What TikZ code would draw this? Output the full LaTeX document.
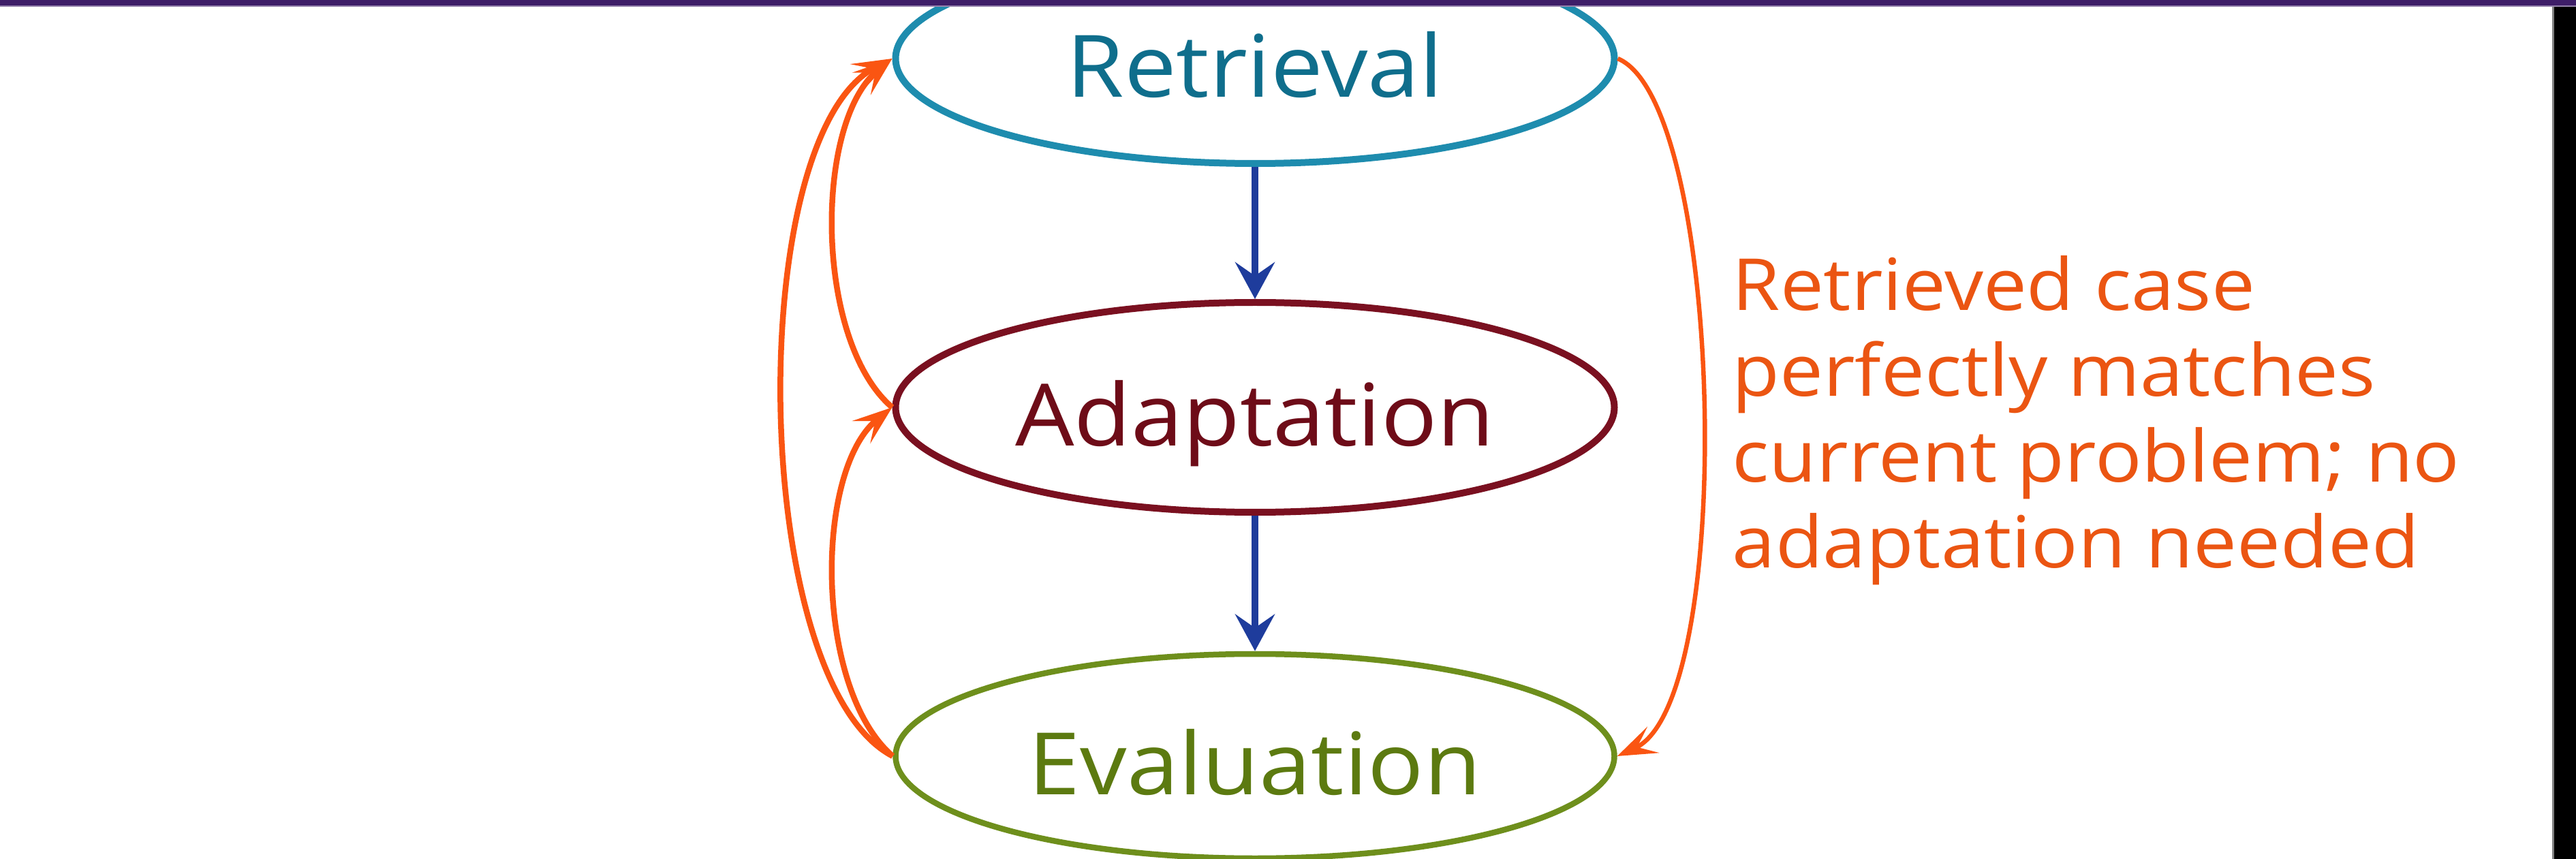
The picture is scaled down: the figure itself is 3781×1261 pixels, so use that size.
\documentclass[tikz,border=0pt]{standalone}
\usepackage{fontspec}
\newfontfamily\hand[FakeStretch=1.08]{Open Sans}
\usetikzlibrary{arrows.meta,shapes.geometric}

\definecolor{retc}{HTML}{1E8CAE}
\definecolor{rett}{HTML}{0F6E8C}
\definecolor{adac}{HTML}{7A1020}
\definecolor{adat}{HTML}{6E0C18}
\definecolor{evac}{HTML}{6E8F1C}
\definecolor{evat}{HTML}{5C7A10}
\definecolor{flowc}{HTML}{1E3C9C}
\definecolor{loopc}{HTML}{FA5512}
\definecolor{notec}{HTML}{EB5512}
\definecolor{barc}{HTML}{3E1E68}

\begin{document}
\begin{tikzpicture}[x=0.1mm,y=-0.1mm,
  stage/.style={ellipse, draw, line width=1.0mm, inner sep=0pt,
    minimum width=10.55cm, minimum height=3.08cm,
    font=\hand\fontsize{36}{40}\selectfont, text height=32pt, text depth=0pt},
  flow/.style={draw=flowc, line width=1.0mm, -{Stealth[length=5.4mm,width=5.8mm,inset=2mm]}},
  loop/.style={draw=loopc, line width=0.85mm, -{Stealth[length=5.8mm,width=4.2mm,inset=2.6mm]}},
  note/.style={anchor=north west, inner sep=0pt, align=left, text=notec,
    font=\hand\fontsize{30}{35.8}\selectfont},
]
\fill[white] (0,0) rectangle (3781,1261);
\useasboundingbox (0,0) rectangle (3781,1261);

\node[stage, draw=retc, text=rett] (ret) at (1842,86) {Retrieval};
\node[stage, draw=adac, text=adat] (ada) at (1842,598) {Adaptation};
\node[stage, draw=evac, text=evat, line width=0.85mm, minimum height=3.0cm] (eva) at (1842,1110) {Evaluation};

\draw[flow] (ret.south) -- (ada.north);
\draw[flow] (ada.south) -- (eva.north);

\draw[loop] (eva.west) .. controls (1100,1000) and (1090,200) .. (ret.west);
\draw[loop] (ada.west) .. controls (1195,500) and (1195,180) .. (ret.west);
\draw[loop] (eva.west) .. controls (1195,1010) and (1195,690) .. (ada.west);
\draw[loop, line width=0.65mm] (ret.east) .. controls (2530,150) and (2550,1030) .. (eva.east);

\node[note] (txt) at (2542,375) {Retrieved case\\perfectly matches\\current problem; no\\adaptation needed};

\fill[barc] (0,0) rectangle (3781,8);
\fill[barc!55!white] (0,8) rectangle (3781,10);
\fill[gray] (3746,10) rectangle (3749,1261);
\fill[black] (3749,10) rectangle (3781,1261);
\end{tikzpicture}
\end{document}
